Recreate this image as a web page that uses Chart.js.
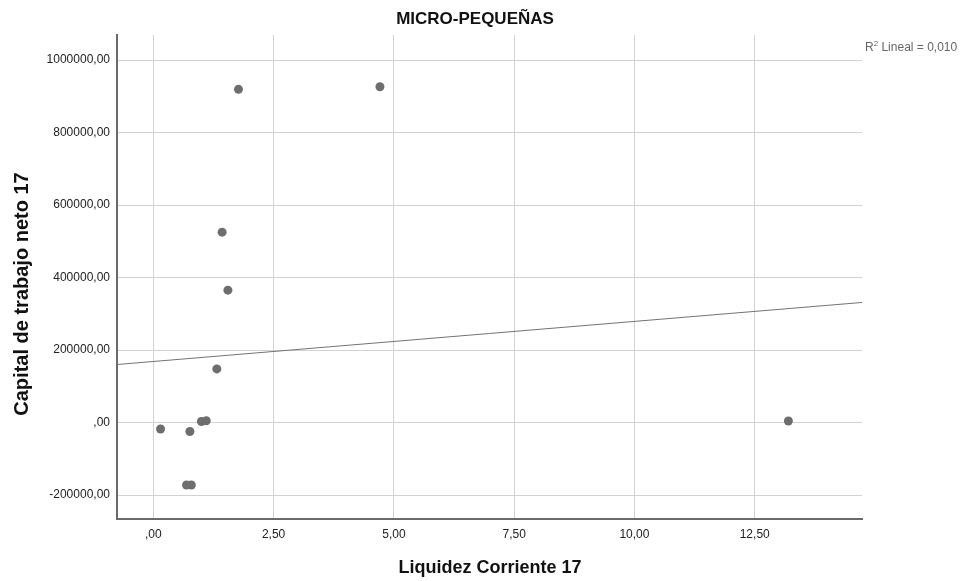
<!DOCTYPE html>
<html>
<head>
<meta charset="utf-8">
<script src="https://cdn.jsdelivr.net/npm/chart.js@4.4.1/dist/chart.umd.min.js"></script>
<style>
  html, body { margin: 0; padding: 0; background: #fff; }
  #wrap { width: 962px; height: 581px; position: relative; }
</style>
</head>
<body>
<div id="wrap"><canvas id="scatter"></canvas></div>
<script>
// Liquidez corriente vs capital de trabajo neto (micro y pequeñas empresas)
const liquidez = [0.15, 0.76, 1.00, 1.10, 0.69, 0.79, 1.77, 4.71, 1.43, 1.55, 1.32, 13.20];
const capital = [-17700, -24800, 3000, 5000, -172300, -172300, 919300, 926400, 525300, 365200, 148000, 4400];

// recta de ajuste lineal (extremos del eje X)
const ajusteX = [-0.755, 14.73];
const ajusteY = [160100, 331300];

const xTicks = [0, 2.5, 5, 7.5, 10, 12.5];
const yTicks = [-200000, 0, 200000, 400000, 600000, 800000, 1000000];

const fuente = "'Liberation Sans', Arial, sans-serif";

function coma(v) {
  let s = v.toFixed(2).replace(".", ",");
  if (s.startsWith("0,")) s = s.slice(1);
  return s;
}

// titulo, titulos de ejes y etiqueta R2
const textos = {
  id: "textos",
  afterDraw(chart) {
    const ctx = chart.ctx;
    ctx.save();
    ctx.fillStyle = "#111";
    ctx.textAlign = "center";
    ctx.textBaseline = "alphabetic";

    ctx.font = "bold 17px " + fuente;
    ctx.fillText("MICRO-PEQUEÑAS", 475, 24);

    ctx.font = "bold 18px " + fuente;
    ctx.fillText("Liquidez Corriente 17", 490, 573);

    ctx.save();
    ctx.translate(28, 294);
    ctx.rotate(-Math.PI / 2);
    ctx.font = "bold 20px " + fuente;
    ctx.fillText("Capital de trabajo neto 17", 0, 0);
    ctx.restore();

    ctx.fillStyle = "#666";
    ctx.textAlign = "left";
    ctx.font = "12px " + fuente;
    let x = 865;
    ctx.fillText("R", x, 51);
    x += ctx.measureText("R").width;
    ctx.font = "8px " + fuente;
    ctx.fillText("2", x, 46);
    x += ctx.measureText("2").width;
    ctx.font = "12px " + fuente;
    ctx.fillText(" Lineal = 0,010", x, 51);
    ctx.restore();
  }
};

const ctx = document.getElementById("scatter").getContext("2d");
new Chart(ctx, {
  type: "scatter",
  data: {
    datasets: [
      {
        type: "line",
        label: "Lineal",
        data: ajusteX.map((x, i) => ({ x: x, y: ajusteY[i] })),
        borderColor: "#737373",
        borderWidth: 1,
        pointRadius: 0,
        fill: false
      },
      {
        label: "Capital de trabajo neto 17",
        data: liquidez.map((x, i) => ({ x: x, y: capital[i] })),
        backgroundColor: "#6e6e6e",
        borderWidth: 0,
        pointRadius: 4.5,
        pointHoverRadius: 4.5
      }
    ]
  },
  options: {
    responsive: true,
    maintainAspectRatio: false,
    animation: false,
    layout: { padding: { top: 35, right: 100, bottom: 0, left: 0 } },
    plugins: {
      legend: { display: false },
      tooltip: { enabled: false }
    },
    scales: {
      x: {
        type: "linear",
        min: -0.755,
        max: 14.73,
        afterBuildTicks: (s) => { s.ticks = xTicks.map((v) => ({ value: v })); },
        afterFit: (s) => { s.height = 62; },
        grid: { color: "#d2d2d2", lineWidth: 1, drawTicks: false },
        border: { color: "#6a6a6a", width: 2 },
        ticks: {
          autoSkip: false,
          maxRotation: 0,
          padding: 8,
          color: "#222",
          font: { family: fuente, size: 12 },
          callback: (v) => coma(v)
        }
      },
      y: {
        type: "linear",
        min: -266100,
        max: 1069200,
        afterBuildTicks: (s) => { s.ticks = yTicks.map((v) => ({ value: v })); },
        afterFit: (s) => { s.width = 117; },
        grid: { color: "#d2d2d2", lineWidth: 1, drawTicks: false },
        border: { color: "#6a6a6a", width: 2 },
        ticks: {
          autoSkip: false,
          padding: 7,
          color: "#222",
          font: { family: fuente, size: 12 },
          callback: (v) => coma(v)
        }
      }
    }
  },
  plugins: [textos]
});
</script>
</body>
</html>
